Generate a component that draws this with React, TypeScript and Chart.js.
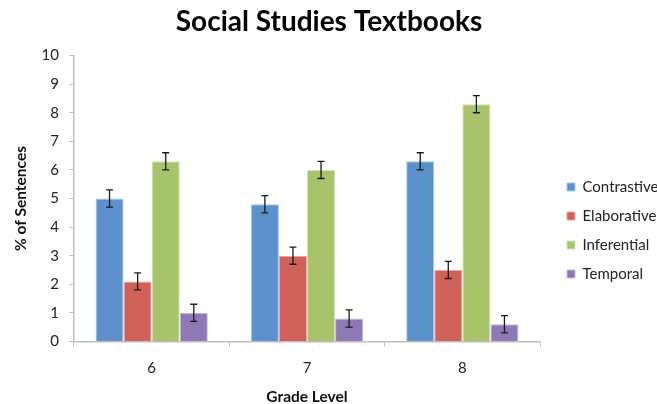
import React, { useEffect, useRef } from "react";
import { Chart, registerables } from "chart.js";

Chart.register(...registerables);

const categories = ["6", "7", "8"];
const contrastive = [5.0, 4.8, 6.3];
const elaborative = [2.1, 3.0, 2.5];
const inferential = [6.3, 6.0, 8.3];
const temporal = [1.0, 0.8, 0.6];
const contrastiveErr = [0.3, 0.3, 0.3];
const elaborativeErr = [0.3, 0.3, 0.3];
const inferentialErr = [0.3, 0.3, 0.3];
const temporalErr = [0.3, 0.3, 0.3];
const yTicks = [0, 1, 2, 3, 4, 5, 6, 7, 8, 9, 10];

const FONT = "Lato, 'Open Sans', sans-serif";

const errorBarPlugin = {
  id: "errorBars",
  afterDatasetsDraw(chart: any) {
    const ctx = chart.ctx;
    const yScale = chart.scales.y;
    chart.data.datasets.forEach((ds: any, di: number) => {
      const meta = chart.getDatasetMeta(di);
      if (meta.hidden) return;
      meta.data.forEach((el: any, i: number) => {
        const v = ds.data[i];
        const e = ds.errors[i];
        const x = el.x;
        const yTop = yScale.getPixelForValue(v + e);
        const yBot = yScale.getPixelForValue(v - e);
        ctx.save();
        ctx.strokeStyle = "#1a1a1a";
        ctx.lineWidth = 1.3;
        ctx.beginPath();
        ctx.moveTo(x, yTop);
        ctx.lineTo(x, yBot);
        ctx.moveTo(x - 3.5, yTop);
        ctx.lineTo(x + 3.5, yTop);
        ctx.moveTo(x - 3.5, yBot);
        ctx.lineTo(x + 3.5, yBot);
        ctx.stroke();
        ctx.restore();
      });
    });
  },
};

export default function App() {
  const ref = useRef<HTMLCanvasElement | null>(null);
  useEffect(() => {
    if (!ref.current) return;
    const mk = (label: string, data: number[], errors: number[], color: string, border: string) => ({
      label,
      data,
      errors,
      backgroundColor: color,
      borderColor: border,
      borderWidth: 1,
      categoryPercentage: 0.723,
      barPercentage: 1.0,
    });
    const chart = new Chart(ref.current, {
      type: "bar",
      data: {
        labels: categories,
        datasets: [
          mk("Contrastive", contrastive, contrastiveErr, "#5D91CB", "#A9C6E6"),
          mk("Elaborative", elaborative, elaborativeErr, "#CF615A", "#E9A9A4"),
          mk("Inferential", inferential, inferentialErr, "#A8C46A", "#D3E3B0"),
          mk("Temporal", temporal, temporalErr, "#8F78B3", "#C7BAD9"),
        ] as any,
      },
      options: {
        animation: false,
        responsive: true,
        maintainAspectRatio: false,
        layout: { padding: { left: 1, right: 0, top: 5, bottom: 0 } },
        plugins: {
          title: {
            display: true,
            text: "Social Studies Textbooks",
            color: "#000",
            font: { family: FONT, size: 28, weight: "bold" },
            padding: { top: 0, bottom: 17 },
          },
          legend: {
            position: "right",
            align: "start",
            maxWidth: 104,
            title: {
              display: true,
              text: "",
              font: { family: FONT, size: 10 },
              padding: { top: 148.5, bottom: 0 },
            },
            labels: {
              boxWidth: 8,
              boxHeight: 8,
              padding: 14,
              color: "#222",
              font: { family: FONT, size: 15 },
            },
          },
          tooltip: { enabled: false },
        },
        scales: {
          x: {
            grid: {
              display: true,
              drawOnChartArea: false,
              offset: true,
              tickLength: 5,
              color: "#BFBFBF",
            },
            border: { color: "#BFBFBF", width: 1.5 },
            ticks: { color: "#222", font: { family: FONT, size: 15 }, padding: 13 },
            title: {
              display: true,
              text: "Grade Level",
              color: "#111",
              font: { family: FONT, size: 15.5, weight: "bold" },
              padding: { top: -3, bottom: -2 },
            },
          },
          y: {
            min: 0,
            max: 10,
            afterBuildTicks: (axis: any) => {
              axis.ticks = yTicks.map((v) => ({ value: v }));
            },
            grid: {
              display: true,
              drawOnChartArea: false,
              tickLength: 5,
              color: "#BFBFBF",
            },
            border: { color: "#BFBFBF", width: 1.5 },
            ticks: { color: "#222", font: { family: FONT, size: 15 }, padding: 10 },
            title: {
              display: true,
              text: "% of Sentences",
              color: "#111",
              font: { family: FONT, size: 15.5, weight: "bold" },
              padding: { top: 11, bottom: 1 },
            },
          },
          gap: {
            type: "linear",
            position: "right",
            display: true,
            grid: { display: false },
            border: { display: false },
            ticks: { display: false },
            afterFit: (s: any) => {
              s.width = 13;
            },
          },
        },
      },
      plugins: [errorBarPlugin],
    } as any);
    return () => chart.destroy();
  }, []);
  return (
    <div style={{ position: "absolute", left: 0, top: 0, width: 657, height: 404 }}>
      <canvas ref={ref} />
    </div>
  );
}
